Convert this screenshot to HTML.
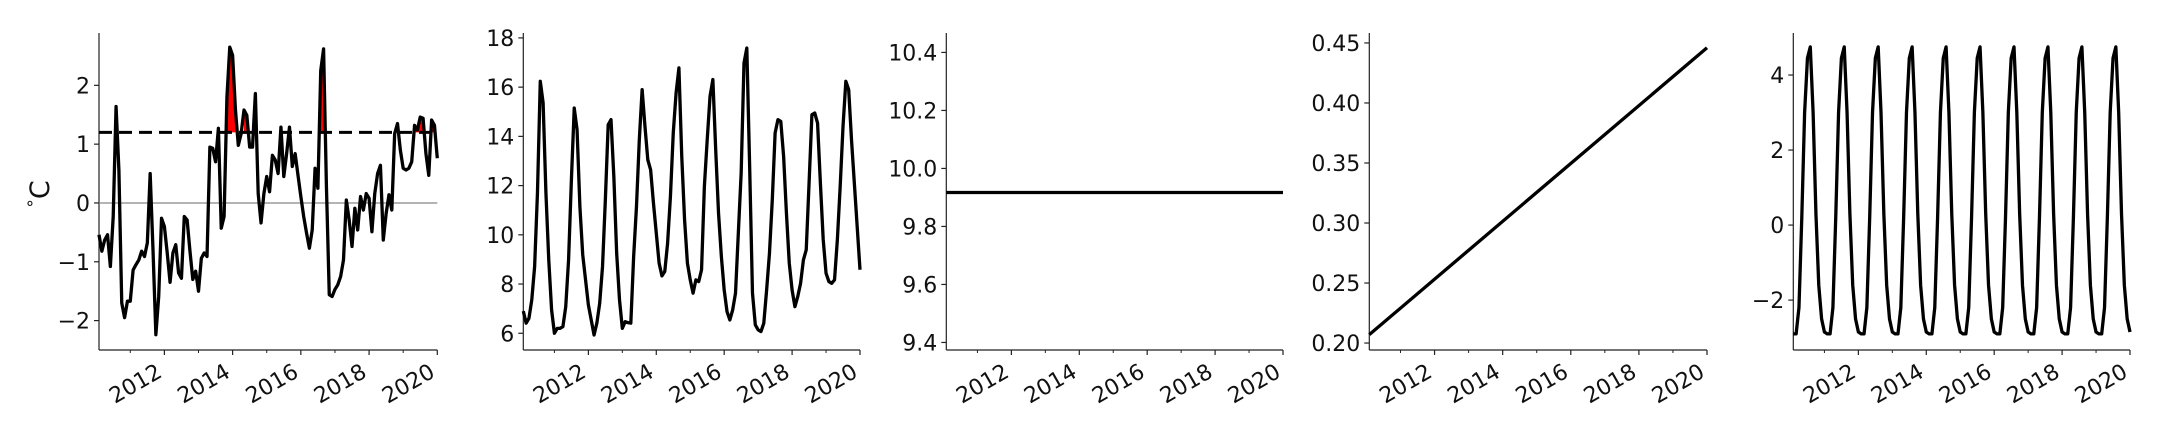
<!DOCTYPE html>
<html><head><meta charset="utf-8"><style>
html,body{margin:0;padding:0;background:#fff;}
svg{display:block;font-family:"DejaVu Sans","Liberation Sans",sans-serif;}
</style></head><body>
<svg id="fig" width="2160" height="432" viewBox="0 0 2160 432" xmlns="http://www.w3.org/2000/svg"></svg>
<script>
// ---- data ----
const startYear = 2010.0833;           // first month (Feb 2010)
const monthsCount = 120;
const anomalyValues = [-0.54,-0.82,-0.63,-0.54,-1.08,-0.23,1.64,0.56,-1.70,-1.95,-1.67,-1.67,-1.14,-1.05,-0.97,-0.82,-0.91,-0.68,0.50,-0.80,-2.24,-1.59,-0.26,-0.40,-0.85,-1.35,-0.85,-0.71,-1.19,-1.28,-0.23,-0.29,-0.82,-1.30,-1.16,-1.50,-0.94,-0.85,-0.91,0.95,0.93,0.70,1.27,-0.43,-0.23,1.80,2.65,2.51,1.58,0.98,1.18,1.58,1.49,0.95,0.95,1.86,0.16,-0.34,0.16,0.45,0.19,0.81,0.73,0.50,1.29,0.45,0.84,1.29,0.62,0.84,0.47,0.11,-0.23,-0.51,-0.77,-0.46,0.59,0.25,2.25,2.62,0.28,-1.56,-1.59,-1.47,-1.39,-1.25,-0.97,0.05,-0.29,-0.74,-0.09,-0.46,0.11,-0.12,0.16,0.08,-0.49,0.16,0.50,0.64,-0.63,-0.18,0.14,-0.12,1.18,1.35,0.90,0.59,0.56,0.59,0.70,1.32,1.24,1.46,1.44,0.84,0.47,1.41,1.32,0.76];
const thresholdValue = 1.2;
const sstValues = [6.9,6.41,6.61,7.36,8.71,11.69,16.24,15.36,11.69,8.98,6.95,6.0,6.2,6.2,6.27,7.08,8.98,12.24,15.15,14.27,11.15,9.19,8.17,7.15,6.54,5.93,6.41,7.22,8.71,11.42,14.47,14.68,12.37,9.25,7.36,6.2,6.47,6.43,6.41,9.12,11.15,13.86,15.9,14.41,13.05,12.64,11.29,10.07,8.85,8.33,8.51,9.66,11.56,14.14,15.76,16.78,13.19,10.61,8.85,8.17,7.63,8.17,8.1,8.58,11.97,13.86,15.63,16.31,13.46,10.88,9.12,7.76,6.88,6.54,6.95,7.63,10.07,12.51,16.98,17.59,12.78,7.63,6.34,6.14,6.07,6.41,7.76,9.25,11.42,14.14,14.68,14.61,13.19,10.88,8.85,7.76,7.08,7.49,8.03,8.98,9.39,12.1,14.88,14.95,14.54,12.1,9.8,8.44,8.1,8.03,8.17,9.8,11.97,14.41,16.24,15.9,13.86,12.1,10.34,8.58];
const meanValue = 9.917;
const trendEndpoints = [0.207, 0.446];
const seasonalValues = [-2.9,-2.9,-2.2,0.2,3.0,4.45,4.75,3.0,0.3,-1.6,-2.5,-2.85];
const xTickYears = [2012,2014,2016,2018,2020];
const xTickLabels = ["2012","2014","2016","2018","2020"];
const xMinorYears = [2011,2013,2015,2017,2019];
const ticks1 = [-2,-1,0,1,2], ticks1Labels = ["\u22122","\u22121","0","1","2"];
const ticks2 = [6,8,10,12,14,16,18], ticks2Labels = ["6","8","10","12","14","16","18"];
const ticks3 = [9.4,9.6,9.8,10.0,10.2,10.4], ticks3Labels = ["9.4","9.6","9.8","10.0","10.2","10.4"];
const ticks4 = [0.20,0.25,0.30,0.35,0.40,0.45], ticks4Labels = ["0.20","0.25","0.30","0.35","0.40","0.45"];
const ticks5 = [-2,0,2,4], ticks5Labels = ["\u22122","0","2","4"];

const NS = "http://www.w3.org/2000/svg";
const svg = document.getElementById('fig');
function mk(tag, attrs, parent){ const e=document.createElementNS(NS,tag); for(const k in attrs) e.setAttribute(k,attrs[k]); (parent||svg).appendChild(e); return e; }

const TOP=33, BOT=350, X0=startYear, X1=2020.0, FS=22;
const months = Array.from({length:monthsCount},(_,i)=>X0+i/12);

function panel(name, left, width, ymin, ymax, ticks, labels){
  const g = mk('g',{});
  
  
  const xs = t => left + (t-X0)/(X1-X0)*width;
  const ys = v => BOT - (v-ymin)/(ymax-ymin)*(BOT-TOP);
  const sp1 = mk('line',{x1:left,y1:TOP,x2:left,y2:BOT,stroke:'#222','stroke-width':1.2},g);
   
  const sp2 = mk('line',{x1:left,y1:BOT,x2:left+width,y2:BOT,stroke:'#222','stroke-width':1.2},g);
   
  ticks.forEach((v,i)=>{
    const y=ys(v);
    mk('line',{x1:left-5,y1:y,x2:left,y2:y,stroke:'#222','stroke-width':1.2},g);
    const t=mk('text',{x:left-9,y:y+8,'text-anchor':'end','font-size':FS,fill:'#111'},g);
    t.textContent=labels[i];
     
  });
  xTickYears.forEach((yr,i)=>{
    const x=xs(yr);
    mk('line',{x1:x,y1:BOT,x2:x,y2:BOT+5,stroke:'#222','stroke-width':1.2},g);
    const t=mk('text',{x:x-1,y:BOT+26,'text-anchor':'end','font-size':FS,fill:'#111',transform:`rotate(-30 ${x-1} ${BOT+26})`},g);
    t.textContent=xTickLabels[i];
     
  });
  xMinorYears.forEach(yr=>{ const x=xs(yr); mk('line',{x1:x,y1:BOT,x2:x,y2:BOT+3,stroke:'#222','stroke-width':1},g); });
  return {g,xs,ys};
}
function linePath(xs,ys,tArr,vArr){ return tArr.map((t,i)=>(i?'L':'M')+xs(t).toFixed(2)+' '+ys(vArr[i]).toFixed(2)).join(' '); }

// Panel 1: anomaly
{
  const p = panel('anomaly-panel', 99, 338.3, -2.5, 2.89, ticks1, ticks1Labels);
  const zl = mk('line',{x1:99,y1:p.ys(0),x2:437.3,y2:p.ys(0),stroke:'#888','stroke-width':1.2},p.g);
   
  let i=0;
  while(i<monthsCount){
    if(anomalyValues[i]>thresholdValue){
      let j=i; while(j+1<monthsCount && anomalyValues[j+1]>thresholdValue) j++;
      if(j>i){
        let d='M'+p.xs(months[i])+' '+p.ys(thresholdValue);
        for(let k=i;k<=j;k++) d+=' L'+p.xs(months[k])+' '+p.ys(anomalyValues[k]);
        d+=' L'+p.xs(months[j])+' '+p.ys(thresholdValue)+' Z';
        const f=mk('path',{d:d,fill:'#ff0000',stroke:'none'},p.g);
         
      }
      i=j+1;
    } else i++;
  }
  const th = mk('line',{x1:99,y1:p.ys(thresholdValue),x2:437.3,y2:p.ys(thresholdValue),stroke:'#000','stroke-width':3,'stroke-dasharray':'13 7'},p.g);
   
  const ln = mk('path',{d:linePath(p.xs,p.ys,months,anomalyValues),fill:'none',stroke:'#000','stroke-width':3.3,'stroke-linejoin':'round'},p.g);
   
  const yl = mk('text',{x:0,y:0,'text-anchor':'middle','font-size':27,fill:'#111',transform:'translate(49 194) rotate(-90)'},p.g);
  const deg = mk('tspan',{'font-size':17,dy:-9},yl); deg.textContent='\u00B0';
  const cc = mk('tspan',{dy:9},yl); cc.textContent='C';
   
}
// Panel 2: SST
{
  const p = panel('sst-panel', 523.3, 336.7, 5.32, 18.2, ticks2, ticks2Labels);
  const ln = mk('path',{d:linePath(p.xs,p.ys,months,sstValues),fill:'none',stroke:'#000','stroke-width':3.3,'stroke-linejoin':'round'},p.g);
   
}
// Panel 3: mean
{
  const p = panel('mean-panel', 946.3, 336.7, 9.374, 10.467, ticks3, ticks3Labels);
  const ln = mk('path',{d:linePath(p.xs,p.ys,[X0,X1],[meanValue,meanValue]),fill:'none',stroke:'#000','stroke-width':3.3},p.g);
   
}
// Panel 4: trend
{
  const p = panel('trend-panel', 1369.3, 337.7, 0.1942, 0.4583, ticks4, ticks4Labels);
  const ln = mk('path',{d:linePath(p.xs,p.ys,[X0,X1],trendEndpoints),fill:'none',stroke:'#000','stroke-width':3.3},p.g);
   
}
// Panel 5: seasonal
{
  const p = panel('seasonal-panel', 1793.3, 336.7, -3.33, 5.12, ticks5, ticks5Labels);
  const vals = months.map((_,i)=>seasonalValues[i%12]);
  const ln = mk('path',{d:linePath(p.xs,p.ys,months,vals),fill:'none',stroke:'#000','stroke-width':3.3,'stroke-linejoin':'round'},p.g);
   
}
</script>
</body></html>
